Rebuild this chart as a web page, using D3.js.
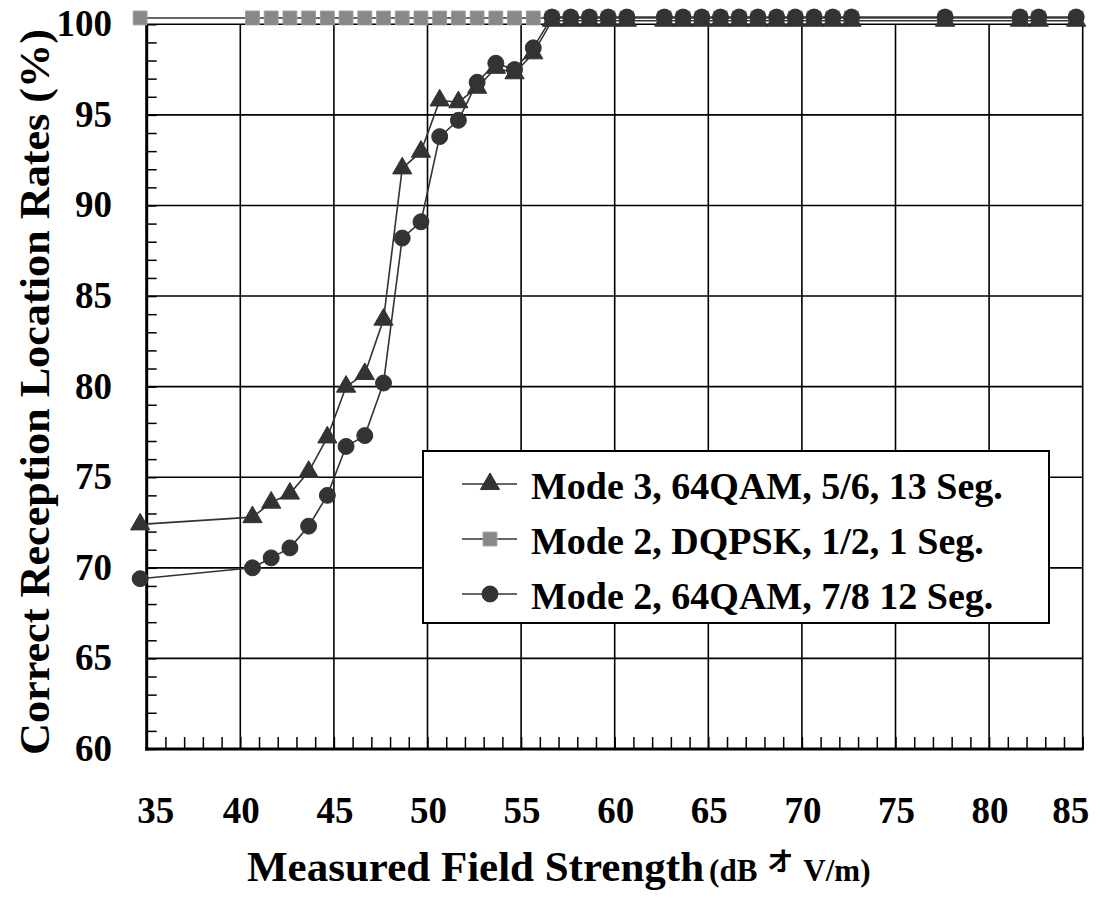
<!DOCTYPE html>
<html lang="en">
    <head>
        <meta charset="utf-8">
        <title>Correct Reception Location Rates</title>
        <script type="text/javascript" src="https://cdn.jsdelivr.net/npm/d3@7"></script>
        <style>
            body { margin: 0; background: #fff; }
            text { font-family: "Liberation Serif", "Times New Roman", serif; font-weight: bold; fill: #000; }
        </style>
    </head>
    <body>
        <script type="text/javascript">
            // measured points (dBuV/m) shared by the three series
            var field = [34.65, 40.65, 41.65, 42.65, 43.65, 44.65, 45.65, 46.65, 47.65, 48.65,
                         49.65, 50.65, 51.65, 52.65, 53.65, 54.65, 55.65, 56.65, 57.65, 58.65,
                         59.65, 60.65, 62.65, 63.65, 64.65, 65.65, 66.65, 67.65, 68.65, 69.65,
                         70.65, 71.65, 72.65, 77.65, 81.65, 82.65, 84.65];

            var rateMode3 = [72.4, 72.8, 73.6, 74.1, 75.3, 77.2, 80.0, 80.7, 83.7, 92.05,
                             92.97, 95.8, 95.7, 96.5, 97.6, 97.3, 98.4, 100.2, 100.2, 100.2,
                             100.2, 100.2, 100.2, 100.2, 100.2, 100.2, 100.2, 100.2, 100.2, 100.2,
                             100.2, 100.2, 100.2, 100.2, 100.2, 100.2, 100.2];

            var rateDqpsk = [100.35, 100.35, 100.35, 100.35, 100.35, 100.35, 100.35, 100.35, 100.35, 100.35,
                             100.35, 100.35, 100.35, 100.35, 100.35, 100.35, 100.35, 100.35, 100.35, 100.35,
                             100.35, 100.35, 100.35, 100.35, 100.35, 100.35, 100.35, 100.35, 100.35, 100.35,
                             100.35, 100.35, 100.35, 100.35, 100.35, 100.35, 100.35];

            var rate64qam = [69.4, 70.0, 70.55, 71.1, 72.3, 74.0, 76.7, 77.3, 80.2, 88.2,
                             89.1, 93.8, 94.7, 96.8, 97.85, 97.5, 98.7, 100.4, 100.4, 100.4,
                             100.4, 100.4, 100.4, 100.4, 100.4, 100.4, 100.4, 100.4, 100.4, 100.4,
                             100.4, 100.4, 100.4, 100.4, 100.4, 100.4, 100.4];

            var seriesNames = ["Mode 3, 64QAM, 5/6, 13 Seg.", "Mode 2, DQPSK, 1/2, 1 Seg.", "Mode 2, 64QAM, 7/8 12 Seg."];
            var xTicks = [35, 40, 45, 50, 55, 60, 65, 70, 75, 80, 85];
            var yTicks = [60, 65, 70, 75, 80, 85, 90, 95, 100];

            var w = 1102;
            var h = 900;

            var svg = d3.select("body").append("svg").attr("width", w).attr("height", h);

            var x = d3.scaleLinear().domain([35, 85]).range([146.7, 1082.7]);
            var y = d3.scaleLinear().domain([60, 100]).range([749, 24.3]);

            // grid lines every 5 units
            svg.append("g").selectAll("line")
                .data(xTicks.slice(1))
                .enter()
                .append("line")
                .attr("x1", function(d){ return x(d); })
                .attr("x2", function(d){ return x(d); })
                .attr("y1", y(60))
                .attr("y2", y(100))
                .attr("stroke", "#000")
                .attr("stroke-width", 1.6);

            svg.append("g").selectAll("line")
                .data(yTicks.slice(1))
                .enter()
                .append("line")
                .attr("x1", x(35))
                .attr("x2", x(85))
                .attr("y1", function(d){ return y(d); })
                .attr("y2", function(d){ return y(d); })
                .attr("stroke", "#000")
                .attr("stroke-width", 1.6);

            // axes with inside minor ticks every 1 unit
            var xAxis = d3.axisTop(x).tickValues(d3.range(35, 86, 1)).tickSize(12).tickFormat("");
            svg.append("g")
                .attr("transform", "translate(0," + y(60) + ")")
                .call(xAxis)
                .call(function(g){
                    g.select(".domain").attr("stroke-width", 3).attr("d", "M" + (x(35) - 1.5) + ",0H" + (x(85) + 1));
                    g.selectAll(".tick line").attr("stroke-width", 1.5);
                });

            var yAxis = d3.axisRight(y).tickValues(d3.range(60, 101, 1)).tickSize(10).tickFormat("");
            svg.append("g")
                .attr("transform", "translate(" + x(35) + ",0)")
                .call(yAxis)
                .call(function(g){
                    g.select(".domain").attr("stroke-width", 3).attr("d", "M0," + y(100) + "V" + (y(60) + 1.5));
                    g.selectAll(".tick line").attr("stroke-width", 1.5);
                });

            // tick labels
            svg.append("g").selectAll("text")
                .data(yTicks)
                .enter()
                .append("text")
                .attr("x", 112)
                .attr("y", function(d){ return y(d) + 12; })
                .attr("text-anchor", "end")
                .attr("font-size", "37px")
                .text(function(d){ return d; });

            svg.append("g").selectAll("text")
                .data(xTicks)
                .enter()
                .append("text")
                .attr("x", function(d, i){
                    // end labels are pulled slightly inward as in the original
                    if (i === 0) return x(d) + 9;
                    if (i === xTicks.length - 1) return x(d) - 12;
                    return x(d) + 1;
                })
                .attr("y", 823)
                .attr("text-anchor", "middle")
                .attr("font-size", "37px")
                .text(function(d){ return d; });

            // axis titles
            svg.append("text")
                .attr("transform", "translate(49,392) rotate(-90)")
                .attr("text-anchor", "middle")
                .attr("font-size", "43px")
                .attr("textLength", 726)
                .attr("lengthAdjust", "spacingAndGlyphs")
                .text("Correct Reception Location Rates (%)");

            var xt = svg.append("text")
                .attr("x", 247)
                .attr("y", 881);
            xt.append("tspan").attr("font-size", "43px").text("Measured Field Strength");
            xt.append("tspan").attr("font-size", "31px").attr("dx", 5).text("(dB");
            xt.append("tspan")
                .attr("font-size", "26px")
                .attr("dy", -10)
                .attr("dx", 10)
                .style("font-family", "'Noto Sans CJK JP', sans-serif")
                .text("オ");
            xt.append("tspan").attr("font-size", "31px").attr("dy", 10).attr("dx", 10).text("V/m)");

            // series data
            var ptsMode3 = field.map(function(d, i){ return [d, rateMode3[i]]; });
            var ptsDqpsk = field.map(function(d, i){ return [d, rateDqpsk[i]]; });
            var pts64qam = field.map(function(d, i){ return [d, rate64qam[i]]; });

            var line = d3.line()
                .x(function(d){ return x(d[0]); })
                .y(function(d){ return y(d[1]); });

            var dark = "#333333";
            var grey = "#888888";
            var tri = d3.symbol().type(d3.symbolTriangle).size(160);
            var sq = d3.symbol().type(d3.symbolSquare).size(190);
            var circ = d3.symbol().type(d3.symbolCircle).size(200);

            function drawSeries(pts, sym, fill, stroke){
                var g = svg.append("g");
                g.append("path")
                    .attr("d", line(pts))
                    .attr("fill", "none")
                    .attr("stroke", dark)
                    .attr("stroke-width", 1.6);
                g.selectAll("path.m")
                    .data(pts)
                    .enter()
                    .append("path")
                    .attr("class", "m")
                    .attr("d", sym)
                    .attr("transform", function(d){ return "translate(" + x(d[0]) + "," + y(d[1]) + ")"; })
                    .attr("fill", fill)
                    .attr("stroke", stroke)
                    .attr("stroke-width", 1);
            }

            drawSeries(ptsDqpsk, sq, grey, "#9a9a9a");
            drawSeries(ptsMode3, tri, dark, dark);
            drawSeries(pts64qam, circ, dark, dark);

            // legend
            var legend = svg.append("g");
            legend.append("rect")
                .attr("x", 423)
                .attr("y", 451)
                .attr("width", 626)
                .attr("height", 172)
                .attr("fill", "#fff")
                .attr("stroke", "#000")
                .attr("stroke-width", 2);

            var legendSyms = [tri, sq, circ];
            var legendFill = [dark, grey, dark];
            var legendRowY = [484, 539, 594];

            legendRowY.forEach(function(ry, i){
                legend.append("line")
                    .attr("x1", 462).attr("x2", 517)
                    .attr("y1", ry).attr("y2", ry)
                    .attr("stroke", dark)
                    .attr("stroke-width", 1.6);
                legend.append("path")
                    .attr("d", legendSyms[i])
                    .attr("transform", "translate(490," + ry + ")")
                    .attr("fill", legendFill[i])
                    .attr("stroke", i === 1 ? "#9a9a9a" : dark);
                legend.append("text")
                    .attr("x", 531)
                    .attr("y", ry + 15)
                    .attr("font-size", "38px")
                    .text(seriesNames[i]);
            });
        </script>
    </body>
</html>
